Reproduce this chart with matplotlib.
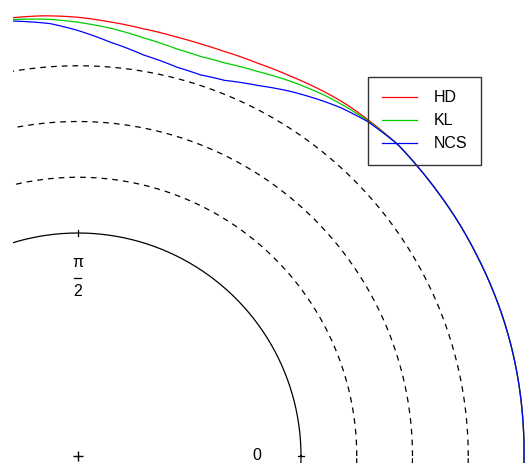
import numpy as np
import matplotlib
matplotlib.use("Agg")
import matplotlib.pyplot as plt
from matplotlib.patches import Rectangle
from matplotlib.lines import Line2D
from matplotlib.transforms import IdentityTransform

plt.rcParams['font.family'] = ['Liberation Sans', 'DejaVu Sans']

# ---- data (angle in degrees, radius) ----
# the three curves share the same outer arc below ~45 deg
theta_common = [-6, 0, 9.3, 13.6, 18.0, 22.6, 27.3, 31.7, 36.1, 40.3, 44.2]
r_common = [2.0, 2.0, 2.003, 2.004, 2.004, 2.003, 2.002, 2.002, 2.001, 2.001, 2.002]

theta_hd = [46.9, 49.2, 52.5, 55.9, 60.7, 65.4, 70.2, 73.5, 76.7, 81.3, 85.8, 90.2, 94.5, 98.4, 100]
r_hd = [1.996, 1.991, 1.984, 1.972, 1.952, 1.937, 1.929, 1.928, 1.930, 1.938, 1.952, 1.968, 1.980, 1.987, 1.989]

theta_kl = [46.9, 49.1, 52.2, 55.7, 60.4, 65.0, 69.6, 72.9, 76.3, 81.1, 85.7, 90.2, 93.7, 98.5, 100]
r_kl = [1.994, 1.987, 1.975, 1.959, 1.932, 1.903, 1.881, 1.874, 1.878, 1.898, 1.924, 1.946, 1.962, 1.979, 1.983]

theta_ncs = [46.9, 49.1, 52.9, 55.2, 59.7, 64.1, 68.7, 72.2, 75.7, 80.7, 85.6, 90.2, 93.7, 98.5, 100]
r_ncs = [1.992, 1.984, 1.957, 1.936, 1.893, 1.847, 1.808, 1.795, 1.799, 1.822, 1.862, 1.910, 1.943, 1.972, 1.978]

series_names = ['HD', 'KL', 'NCS']
series_colors = ['#ff0000', '#00cc00', '#0000ff']

ring_solid = 1.0
rings_dashed = [1.25, 1.5, 1.75]

# ---- layout: pole sits at pixel (78, 456) of a 525x463 canvas ----
W, H = 525, 463
px_per_unit = 223
rmax = 2.1
cx, cy = 78, H - 456
half = rmax * px_per_unit
FS = 11.5

fig = plt.figure(figsize=(W / 100, H / 100), dpi=100)
ax = fig.add_axes([(cx - half) / W, (cy - half) / H, 2 * half / W, 2 * half / H],
                  projection='polar')
ax.set_rlim(0, rmax)
ax.axis('off')

# visible window: everything right of x = 13 px
window = Rectangle((13 / W, 0), (W - 13) / W, 1, transform=fig.transFigure,
                   facecolor='none', edgecolor='none')
drawn = []

# reference circles
t = np.linspace(0, 2 * np.pi, 721)
drawn += ax.plot(t, np.full_like(t, ring_solid), color='black', lw=0.9)
for rr in rings_dashed:
    drawn += ax.plot(t, np.full_like(t, rr), color='black', lw=0.9,
                     linestyle=(0, (4.6, 4.0)))

# radial ticks on the unit circle
for ang in [0, np.pi / 2]:
    drawn += ax.plot([ang, ang], [0.985, 1.015], color='black', lw=0.9)

# tick labels: "0" and a stacked pi / 2
ax.text(0, 0.8, '0', ha='center', va='center', fontsize=FS)
ax.annotate('\u03c0', xy=(np.pi / 2, 0.8), xytext=(0, 7.6), textcoords='offset points',
            ha='center', va='baseline', fontsize=FS)
ax.annotate('2', xy=(np.pi / 2, 0.8), xytext=(0, -13.2), textcoords='offset points',
            ha='center', va='baseline', fontsize=FS)
bx, by = ax.transData.transform((np.pi / 2, 0.8))
fig.add_artist(Line2D([bx - 3.5, bx + 3.5], [by, by], color='black', lw=0.9,
                      transform=IdentityTransform()))

# pole marker
drawn += ax.plot([0], [0], marker='+', color='black', markersize=7, mew=1.0)

# curves
all_theta = [theta_hd, theta_kl, theta_ncs]
all_r = [r_hd, r_kl, r_ncs]
for name, col, th, rr in zip(series_names, series_colors, all_theta, all_r):
    ln, = ax.plot(np.radians(theta_common + th), r_common + rr,
                  color=col, lw=0.9, label=name)
    # let the polar transform bend each segment instead of drawing chords
    ln.get_path()._interpolation_steps = 16
    drawn.append(ln)

for ln in drawn:
    ln.set_clip_path(window)

leg = ax.legend(loc='upper right', bbox_to_anchor=(481 / W, 1 - 76.7 / H),
                bbox_transform=fig.transFigure, borderaxespad=0,
                fontsize=FS, frameon=True, fancybox=False, framealpha=1,
                facecolor='none', edgecolor='#333333', borderpad=0.85,
                handlelength=2.2, handletextpad=1.05, labelspacing=0.5)
leg.get_frame().set_linewidth(1.0)

fig.savefig('out.png', dpi=100)
